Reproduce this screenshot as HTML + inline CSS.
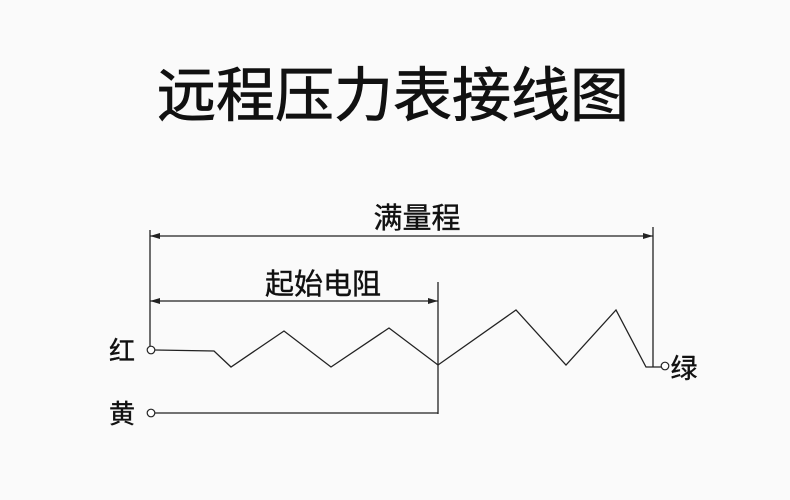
<!DOCTYPE html>
<html><head><meta charset="utf-8"><style>
html,body{margin:0;padding:0;background:#fafafa;}
svg{display:block}
text{font-family:"Liberation Sans","Noto Sans CJK SC",sans-serif;fill:#111}
</style></head><body>
<svg width="790" height="500" viewBox="0 0 790 500" xmlns="http://www.w3.org/2000/svg">
<rect width="790" height="500" fill="#fafafa"/>
<text x="393" y="116" font-size="59" text-anchor="middle" stroke="#111" stroke-width="0.8">远程压力表接线图</text>
<text x="417" y="228" font-size="29" text-anchor="middle" stroke="#111" stroke-width="0.4">满量程</text>
<text x="323" y="294" font-size="29" text-anchor="middle" stroke="#111" stroke-width="0.4">起始电阻</text>
<text x="122" y="360" font-size="26" text-anchor="middle" stroke="#111" stroke-width="0.4">红</text>
<text x="122" y="423" font-size="26" text-anchor="middle" stroke="#111" stroke-width="0.4">黄</text>
<text x="684" y="378" font-size="27" text-anchor="middle" stroke="#111" stroke-width="0.4">绿</text>
<g stroke="#222" stroke-width="1.3" fill="none">
<line x1="150" y1="230" x2="150" y2="346"/>
<line x1="653" y1="227" x2="653" y2="367"/>
<line x1="438" y1="282" x2="438" y2="414"/>
<line x1="150" y1="236" x2="653" y2="236"/>
<line x1="150" y1="301" x2="438" y2="301"/>
<line x1="155" y1="413" x2="438" y2="413"/>
<polyline points="155,350 214,351 231,367 284,331 331,367 389,328 438,365 516,310 566,365 616,310 646,367 661,367"/>
</g>
<g fill="#222">
<polygon points="150,236 160,233 160,239"/>
<polygon points="653,236 643,233 643,239"/>
<polygon points="150,301 160,298 160,304"/>
<polygon points="438,301 428,298 428,304"/>
</g>
<g stroke="#222" stroke-width="1.2" fill="#fff">
<circle cx="151" cy="350" r="3.8"/>
<circle cx="151" cy="413" r="3.8"/>
<circle cx="665" cy="366" r="3.8"/>
</g>
</svg>
</body></html>
